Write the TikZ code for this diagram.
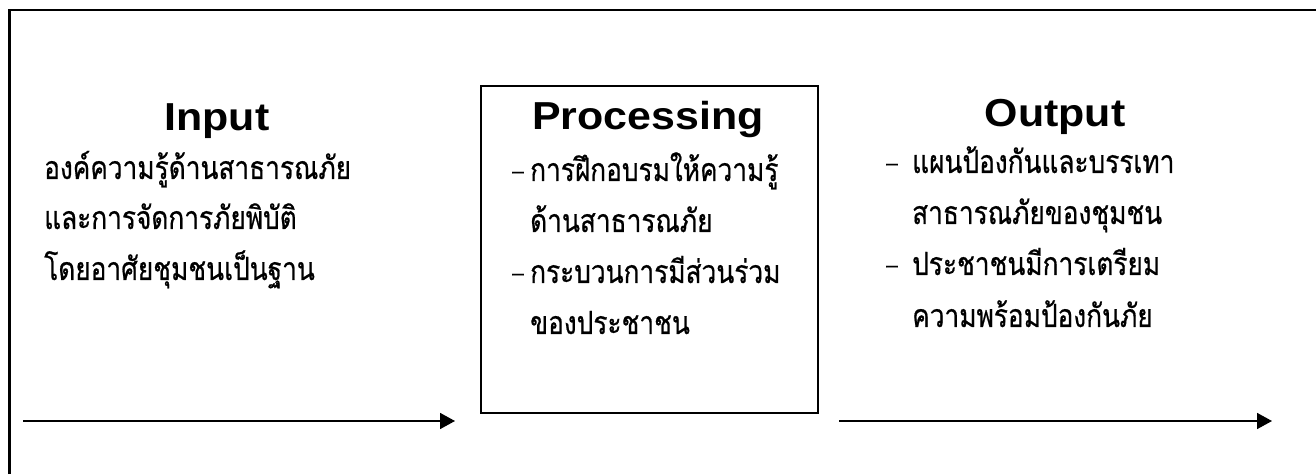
\documentclass[tikz,border=0pt]{standalone}
\usepackage{fontspec}
\usetikzlibrary{arrows.meta}
\newfontfamily\thaifont[Script=Thai,FakeStretch=0.82,FakeBold=0.6]{Loma}
\newfontfamily\titlefont[FakeStretch=1.1]{Liberation Sans}
\newfontfamily\dashfont[FakeBold=1]{Liberation Sans}
\begin{document}
\begin{tikzpicture}[x=1pt,y=1pt,
  title/.style={font=\titlefont\bfseries\fontsize{39}{39}\selectfont, inner sep=0pt, anchor=base},
  thai/.style={font=\thaifont\fontsize{32}{32}\selectfont, inner sep=0pt, anchor=base west},
  dashmark/.style={font=\dashfont\fontsize{21}{21}\selectfont, inner sep=0pt, anchor=base west},
  arr/.style={line width=1.6pt, -{Triangle[length=15pt,width=16pt]}},
  frame/.style={line width=2.5pt},
  procbox/.style={draw, line width=1.8pt, minimum width=337pt, minimum height=327pt, inner sep=0pt, anchor=north west}]
\useasboundingbox (0,0) rectangle (1316,474);
\fill[white] (0,0) rectangle (1316,474);
% outer frame (cut by the page on the right and bottom)
\coordinate (fbl) at (9.5,0);
\coordinate (ftl) at (9.5,464);
\coordinate (ftr) at (1316,464);
\draw[frame] (fbl) -- (ftl) -- (ftr);
% processing box
\node[procbox] (proc) at (480,389) {};
% arrows
\coordinate (a1) at (23,53);
\coordinate (a2) at (455,53);
\coordinate (b1) at (839,53);
\coordinate (b2) at (1272,53);
\draw[arr] (a1) -- (a2);
\draw[arr] (b1) -- (b2);
% titles
\node[title] (tin) at (217,343) {Input};
\node[title] (tproc) at (648,344) {Processing};
\node[title] (tout) at (1055,347) {Output};
% input text
\node[thai] (in1) at (44,295) {องค์ความรู้ด้านสาธารณภัย};
\node[thai] (in2) at (44,245) {และการจัดการภัยพิบัติ};
\node[thai] (in3) at (44,194) {โดยอาศัยชุมชนเป็นฐาน};
% processing text
\node[dashmark] (pd1) at (512,293) {\raisebox{3pt}{–}};
\node[thai] (p1) at (530,293) {การฝึกอบรมให้ความรู้};
\node[thai] (p2) at (530,242) {ด้านสาธารณภัย};
\node[dashmark] (pd2) at (512,191) {\raisebox{3pt}{–}};
\node[thai] (p3) at (530,191) {กระบวนการมีส่วนร่วม};
\node[thai] (p4) at (530,140) {ของประชาชน};
% output text
\node[dashmark] (od1) at (886,301) {\raisebox{3pt}{–}};
\node[thai] (o1) at (912,301) {แผนป้องกันและบรรเทา};
\node[thai] (o2) at (912,250) {สาธารณภัยของชุมชน};
\node[dashmark] (od2) at (886,199) {\raisebox{3pt}{–}};
\node[thai] (o3) at (912,199) {ประชาชนมีการเตรียม};
\node[thai] (o4) at (912,147) {ความพร้อมป้องกันภัย};
\end{tikzpicture}
\end{document}
